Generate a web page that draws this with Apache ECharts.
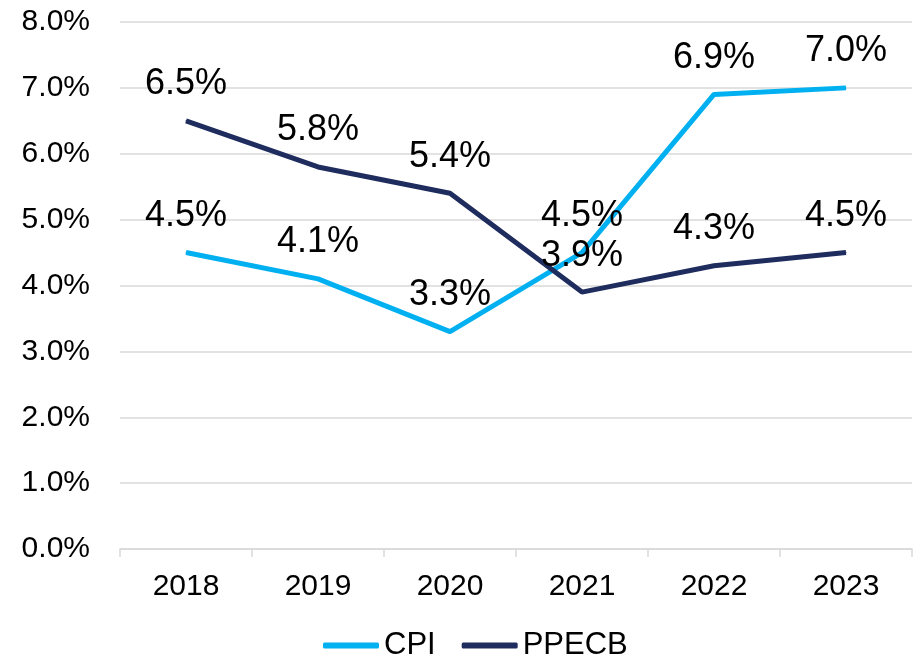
<!DOCTYPE html>
<html>
<head>
<meta charset="utf-8">
<script src="https://cdn.jsdelivr.net/npm/echarts@6/dist/echarts.min.js"></script>
<style>
  html, body { margin: 0; padding: 0; background: #fff; }
  #chart { width: 923px; height: 661px; }
</style>
</head>
<body>
<div id="chart"></div>
<script>
var years = ["2018", "2019", "2020", "2021", "2022", "2023"];
var cpiData = [4.5, 4.1, 3.3, 4.5, 6.9, 7.0];
var ppecbData = [6.5, 5.8, 5.4, 3.9, 4.3, 4.5];
var yTicks = [0, 1, 2, 3, 4, 5, 6, 7, 8];

var font = "'Liberation Sans', Arial, sans-serif";

function makeSeries(name, data, color) {
    return {
        name: name,
        type: 'line',
        data: data,
        symbol: 'circle',
        symbolSize: 1,
        itemStyle: { color: color },
        lineStyle: { color: color, width: 5 },
        label: {
            show: true,
            position: 'top',
            distance: 18,
            fontSize: 36,
            fontFamily: font,
            color: '#000',
            formatter: function(p) { return p.value.toFixed(1) + '%'; }
        }
    };
}

var myChart = echarts.init(document.getElementById('chart'));
var option = {
    animation: false,
    legend: {
        top: 630,
        left: 323,
        padding: 0,
        icon: 'roundRect',
        itemWidth: 56,
        itemHeight: 6,
        itemGap: 26,
        textStyle: { fontSize: 31, fontFamily: font, color: '#000' },
        data: ['CPI', 'PPECB']
    },
    grid: { left: 120, right: 11, top: 22, bottom: 112 },
    xAxis: {
        type: 'category',
        data: years,
        boundaryGap: true,
        axisLine: { lineStyle: { color: '#D9D9D9', width: 1.5 } },
        axisTick: { show: true, interval: 0, length: 8, lineStyle: { color: '#D9D9D9', width: 1.5 } },
        axisLabel: { fontSize: 30, fontFamily: font, color: '#000', margin: 23 }
    },
    yAxis: {
        type: 'value',
        min: yTicks[0],
        max: yTicks[yTicks.length - 1],
        interval: 1,
        axisLine: { show: false },
        axisTick: { show: false },
        splitLine: { lineStyle: { color: '#D9D9D9', width: 1.5 } },
        axisLabel: {
            fontSize: 30, fontFamily: font, color: '#000', margin: 30,
            formatter: function(v) { return v.toFixed(1) + '%'; }
        }
    },
    series: [
        makeSeries('CPI', cpiData, '#00B0F0'),
        makeSeries('PPECB', ppecbData, '#1F2C5E')
    ]
};
myChart.setOption(option);
</script>
</body>
</html>
